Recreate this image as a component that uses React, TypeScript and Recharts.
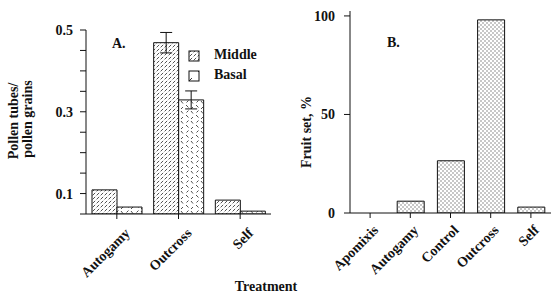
import React from 'react';
import { BarChart, Bar, XAxis, YAxis, ErrorBar, Legend } from 'recharts';

// Panel A: pollen tubes / pollen grains
const categoriesA = ['Autogamy', 'Outcross', 'Self'];
const middleA = [0.109, 0.469, 0.084];
const basalA = [0.067, 0.329, 0.057];
const middleErrA = [null, 0.025, null];
const basalErrA = [null, 0.022, null];
const yTicksA = [0.05, 0.1, 0.15, 0.2, 0.25, 0.3, 0.35, 0.4, 0.45, 0.5];
const yTickLabelsA = ['0.1', '0.3', '0.5'];

// Panel B: fruit set %
const categoriesB = ['Apomixis', 'Autogamy', 'Control', 'Outcross', 'Self'];
const fruitSetB = [0, 6, 26.5, 98, 3];
const yTicksB = [0, 50, 100];

const dataA = categoriesA.map((c, i) => ({
  name: c,
  middle: middleA[i],
  basal: basalA[i],
  middleErr: middleErrA[i],
  basalErr: basalErrA[i],
}));
const dataB = categoriesB.map((c, i) => ({ name: c, fruit: fruitSetB[i] }));

const FONT = '"Liberation Serif", "Times New Roman", serif';

const AngledTick = (props: any) => {
  const { x, y, payload, ox, oy } = props;
  const tx = x + ox;
  const ty = y + oy;
  return (
    <text
      x={tx}
      y={ty}
      transform={`rotate(-45 ${tx} ${ty})`}
      textAnchor="end"
      fontFamily={FONT}
      fontWeight="bold"
      fontSize={14}
      fill="#111"
    >
      {payload.value}
    </text>
  );
};

const LegendContent = () => (
  <svg width={90} height={40} style={{ display: 'block' }}>
    <rect x={4} y={6} width={10} height={10} fill="url(#patMiddle)" stroke="#111" strokeWidth={1} />
    <text x={29} y={14} fontFamily={FONT} fontWeight="bold" fontSize={14} fill="#111">Middle</text>
    <rect x={4} y={26} width={10} height={10} fill="url(#patBasalLeg)" stroke="#111" strokeWidth={1} />
    <text x={29} y={34} fontFamily={FONT} fontWeight="bold" fontSize={14} fill="#111">Basal</text>
  </svg>
);

const axisTickStyle = { fontFamily: FONT, fontWeight: 'bold', fontSize: 14, fill: '#111' } as any;

export default function App() {
  return (
    <div style={{ position: 'absolute', left: 0, top: 0, width: 551, height: 295, background: '#fff' }}>
      <svg width={0} height={0} style={{ position: 'absolute' }}>
        <defs>
          <pattern id="patMiddle" patternUnits="userSpaceOnUse" width={4} height={4}>
            <rect width={4} height={4} fill="#fff" />
            <path d="M0.6,3.4 L3.2,0.8" stroke="#222" strokeWidth={0.8} />
          </pattern>
          <pattern id="patBasal" patternUnits="userSpaceOnUse" width={10} height={10}>
            <rect width={10} height={10} fill="#fff" />
            <path d="M1,1 L3,3.5" stroke="#222" strokeWidth={0.8} />
            <path d="M6,5 L8.5,7.5" stroke="#222" strokeWidth={0.8} />
            <path d="M6.5,2.5 L8.5,0.5" stroke="#222" strokeWidth={0.8} />
            <path d="M1,9 L3,7" stroke="#222" strokeWidth={0.8} />
          </pattern>
          <pattern id="patBasalLeg" patternUnits="userSpaceOnUse" width={10} height={10}>
            <rect width={10} height={10} fill="#fff" />
            <path d="M3,7 L7,3" stroke="#222" strokeWidth={0.9} />
          </pattern>
          <pattern id="patDots" patternUnits="userSpaceOnUse" width={4} height={4}>
            <rect width={4} height={4} fill="#fff" />
            <rect x={0.5} y={0.5} width={1} height={1} fill="#222" />
            <rect x={2.5} y={2.5} width={1} height={1} fill="#222" />
          </pattern>
        </defs>
      </svg>

      <div style={{ position: 'absolute', left: 0, top: 0 }}>
        <BarChart
          width={280}
          height={295}
          data={dataA}
          margin={{ top: 30, right: 9, bottom: 0, left: 0 }}
          barSize={25}
          barGap={0}
        >
          <XAxis
            dataKey="name"
            height={81}
            axisLine={{ stroke: '#111' }}
            tickLine={{ stroke: '#111' }}
            tickSize={5}
            tickMargin={0}
            interval={0}
            tick={(p: any) => <AngledTick {...p} ox={14} oy={15} />}
          />
          <YAxis
            width={86}
            type="number"
            domain={[0.05, 0.5]}
            ticks={yTicksA}
            allowDataOverflow
            axisLine={{ stroke: '#111' }}
            tickLine={{ stroke: '#111' }}
            tickSize={6}
            tickMargin={7}
            tick={axisTickStyle}
            tickFormatter={(v: number) => {
              const s = v.toFixed(1);
              return Math.abs(v - parseFloat(s)) < 1e-9 && yTickLabelsA.includes(s) ? s : '';
            }}
          />
          <Legend
            layout="vertical"
            align="center"
            verticalAlign="middle"
            content={<LegendContent />}
            wrapperStyle={{ left: 185, top: 45, width: 90 }}
          />
          <Bar dataKey="middle" fill="url(#patMiddle)" stroke="#111" strokeWidth={1} isAnimationActive={false}>
            <ErrorBar dataKey="middleErr" width={6} stroke="#111" strokeWidth={1} direction="y" />
          </Bar>
          <Bar dataKey="basal" fill="url(#patBasal)" stroke="#111" strokeWidth={1} isAnimationActive={false}>
            <ErrorBar dataKey="basalErr" width={6} stroke="#111" strokeWidth={1} direction="y" />
          </Bar>
        </BarChart>
      </div>

      <div style={{ position: 'absolute', left: 280, top: 0 }}>
        <BarChart
          width={271}
          height={295}
          data={dataB}
          margin={{ top: 11, right: 0, bottom: 0, left: 0 }}
          barSize={27}
        >
          <XAxis
            dataKey="name"
            height={82}
            axisLine={{ stroke: '#111' }}
            tickLine={{ stroke: '#111' }}
            tickSize={5}
            tickMargin={0}
            interval={0}
            tick={(p: any) => <AngledTick {...p} ox={9} oy={13} />}
          />
          <YAxis
            width={70}
            type="number"
            domain={[0, 102.5]}
            ticks={yTicksB}
            allowDataOverflow
            axisLine={{ stroke: '#111' }}
            tickLine={{ stroke: '#111' }}
            tickSize={6}
            tickMargin={9}
            tick={axisTickStyle}
          />
          <Bar dataKey="fruit" fill="url(#patDots)" stroke="#111" strokeWidth={1} isAnimationActive={false} />
        </BarChart>
      </div>

      <svg width={551} height={295} style={{ position: 'absolute', left: 0, top: 0, pointerEvents: 'none' }}>
        <g fontFamily={FONT} fontWeight="bold" fill="#111">
          <text x={112} y={48} fontSize={14}>A.</text>
          <text x={387} y={47} fontSize={14}>B.</text>
          <text x={18} y={121} fontSize={14} textAnchor="middle" transform="rotate(-90 18 121)">Pollen tubes/</text>
          <text x={31.5} y={119} fontSize={14} textAnchor="middle" transform="rotate(-90 31.5 119)">pollen grains</text>
          <text x={311} y={132} fontSize={14} textAnchor="middle" transform="rotate(-90 311 132)">Fruit set, %</text>
          <text x={266} y={291} fontSize={14} textAnchor="middle">Treatment</text>
        </g>
      </svg>
    </div>
  );
}
